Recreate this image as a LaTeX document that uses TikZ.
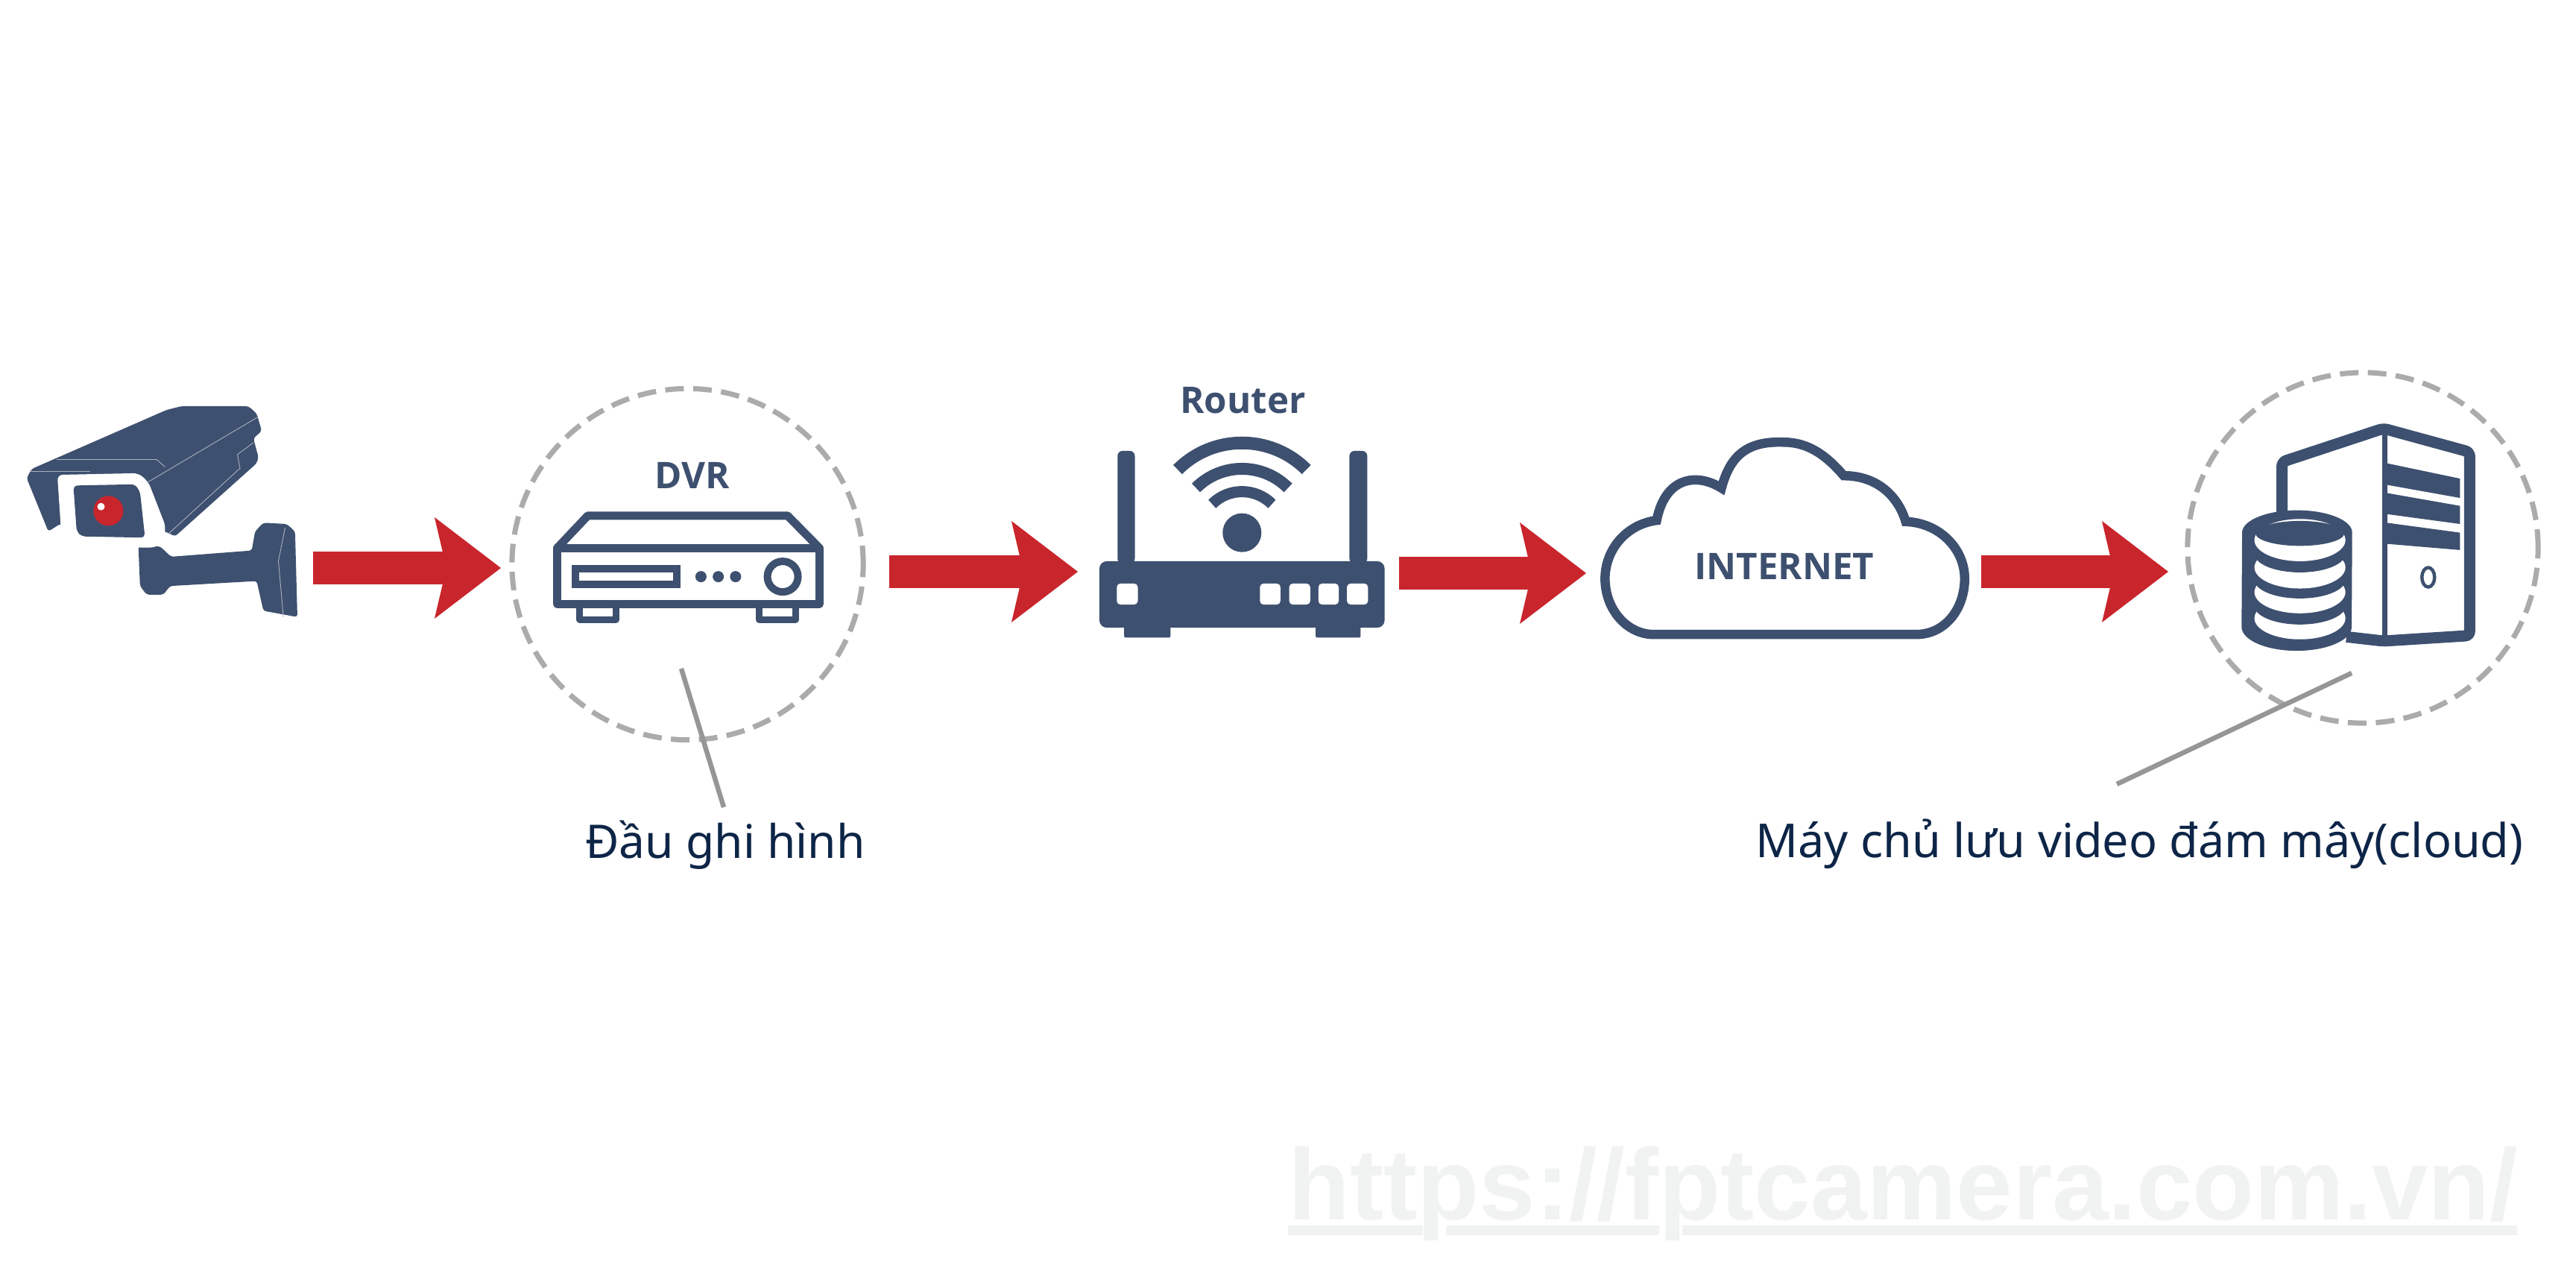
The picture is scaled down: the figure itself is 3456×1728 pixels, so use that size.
\documentclass[tikz,border=0pt]{standalone}
\usepackage{fontspec}
\usetikzlibrary{arrows.meta}
\newfontfamily\capfont{Noto Sans}
\newfontfamily\lblfont{Open Sans}
\newfontfamily\wmfont{Liberation Sans}
\definecolor{navy}{HTML}{3E506F}
\definecolor{redarrow}{HTML}{C9252C}
\definecolor{dashgray}{HTML}{ABABAB}
\definecolor{leadgray}{HTML}{969696}
\definecolor{captext}{HTML}{0D2547}
\definecolor{wmgray}{HTML}{F1F2F2}
\tikzset{
  flow/.style={draw=redarrow,line width=0.43cm,-{Stealth[length=0.89cm,width=1.36cm,inset=0.16cm,line width=0pt,round=false]}},
  halo/.style={draw=dashgray,line width=0.07cm,dash pattern=on 0.25cm off 0.125cm},
  leader/.style={draw=leadgray,line width=0.065cm},
  iconlabel/.style={font=\lblfont\bfseries\fontsize{14}{17}\selectfont,text=navy,inner sep=0pt,anchor=base},
  caption/.style={font=\capfont\fontsize{17.7}{21}\selectfont,text=captext,inner sep=0pt,anchor=base},
  thinline/.style={draw=navy!45!white,line width=0.009cm},
  zcam/.style={shift={(0,500)},x=0.004464cm,y=-0.003333cm},
  zdvr/.style={shift={(660,500)},x=0.003571cm,y=-0.003954cm},
  zrou/.style={shift={(1440,500)},x=0.003333cm,y=-0.003333cm},
  zclo/.style={shift={(2100,560)},x=0.003954cm,y=-0.003333cm},
  zsrv/.style={shift={(2900,480)},x=0.003546cm,y=-0.003333cm},
}
\begin{document}
\begin{tikzpicture}[x=0.01cm,y=-0.01cm]
\useasboundingbox (0,0) rectangle (3456,1728);
\fill[white] (0,0) rectangle (3456,1728);

% watermark
\node[font=\wmfont\bfseries\fontsize{38.55}{46}\selectfont,text=wmgray,inner sep=0pt,anchor=base west] (wm) at (1728,1636) {https://fptcamera.com.vn/};
\fill[wmgray] (1728,1644) rectangle (1909,1657) (1940,1644) rectangle (2226,1657) (2257,1644) rectangle (3377,1657);

% named connector ends
\coordinate (a1s) at (420,762); \coordinate (a1e) at (672,762);
\coordinate (a2s) at (1193,767); \coordinate (a2e) at (1446,767);
\coordinate (a3s) at (1877,769); \coordinate (a3e) at (2128,769);
\coordinate (a4s) at (2658,767); \coordinate (a4e) at (2909,767);
\coordinate (l1s) at (914,897); \coordinate (l1e) at (971,1083);
\coordinate (l2s) at (3155,903); \coordinate (l2e) at (2840,1052);
\coordinate (h1) at (922.5,757); \coordinate (h2) at (3170,735);

% halos
\draw[halo] (h1) circle[radius=2.355cm];
\draw[halo] (h2) circle[radius=2.35cm];
\draw[leader] (l1s) -- (l1e);
\draw[leader] (l2s) -- (l2e);

% flow arrows
\draw[flow] (a1s) -- (a1e);
\draw[flow] (a2s) -- (a2e);
\draw[flow] (a3s) -- (a3e);
\draw[flow] (a4s) -- (a4e);

% camera
\begin{scope}[zcam]
  \fill[navy,rounded corners=1pt] (415,700) -- (480,700) -- (513,742) -- (755,717) -- (765,640) -- (790,605) -- (860,610) -- (885,640) -- (892,985) -- (790,960) -- (770,840) -- (510,860) -- (490,895) -- (440,895) -- (420,860) -- cycle;
  \fill[navy,rounded corners=1pt] (80,425) -- (95,388) -- (500,150) -- (545,135) -- (745,135) -- (770,165) -- (785,235) -- (760,265) -- (775,340) -- (770,365) -- (525,660) -- (495,640) -- (180,610) -- (145,640) -- cycle;
  \fill[white,rounded corners=2pt] (172,412) -- (415,405) -- (445,440) -- (497,620) -- (490,685) -- (465,705) -- (210,703) -- (185,675) -- cycle;
  \fill[navy,rounded corners=1.5pt] (220,455) -- (405,450) -- (420,480) -- (435,665) -- (245,660) -- (230,640) -- cycle;
  \draw[thinline] (445,440) -- (772,180);
  \draw[thinline] (505,650) -- (720,385) -- (712,330) -- (760,282);
  \draw[thinline] (170,350) -- (470,350) -- (495,380);
  \draw[thinline] (92,397) -- (270,397);
  \draw[thinline] (855,625) -- (835,760) -- (850,985);
  \fill[redarrow] (325,557) ellipse[x radius=0.2cm,y radius=0.2cm];
  \fill[white] (303,540) circle[radius=0.05cm];
\end{scope}

% DVR
\begin{scope}[zdvr]
  \draw[navy,line width=0.11cm,line join=round] (245,595) -- (360,485) -- (1110,485) -- (1230,595);
  \draw[navy,line width=0.11cm,line join=round] (245,595) -- (1230,595) -- (1230,785) -- (245,785) -- cycle;
  \draw[navy,line width=0.1cm] (313,664) rectangle (695,719);
  \fill[navy] (785,692) circle[radius=0.075cm] (850,692) circle[radius=0.075cm] (915,692) circle[radius=0.075cm];
  \draw[navy,line width=0.1cm] (1092,692) circle[radius=0.205cm];
  \draw[navy,line width=0.09cm,line join=round] (330,790) -- (330,838) -- (465,838) -- (465,790);
  \draw[navy,line width=0.09cm,line join=round] (1003,790) -- (1003,838) -- (1140,838) -- (1140,790);
\end{scope}
\node[iconlabel] (dvr) at (929,656) {DVR};

% router
\begin{scope}[zrou]
  \fill[navy,rounded corners=0.1cm] (105,760) rectangle (1255,1028);
  \fill[navy,rounded corners=0.07cm] (178,770) -- (178,315) -- (248,315) -- (248,770) -- cycle;
  \fill[navy,rounded corners=0.07cm] (1113,770) -- (1113,315) -- (1185,315) -- (1185,770) -- cycle;
  \fill[navy,rounded corners=0.02cm] (205,1020) rectangle (392,1068);
  \fill[navy,rounded corners=0.02cm] (977,1020) rectangle (1158,1068);
  \foreach \a/\b in {175/260,752/835,870/955,988/1070,1103/1188}
    \fill[white,rounded corners=0.05cm] (\a,850) rectangle (\b,935);
  \coordinate (wifi) at (680,650);
  \fill[navy] (680,645) circle[radius=0.26cm];
  \draw[navy,line width=0.17cm] (wifi) ++(135:1.22cm) arc[start angle=135,end angle=45,radius=1.22cm];
  \draw[navy,line width=0.16cm] (wifi) ++(135:0.873cm) arc[start angle=135,end angle=45,radius=0.873cm];
  \draw[navy,line width=0.15cm] (wifi) ++(135:0.567cm) arc[start angle=135,end angle=45,radius=0.567cm];
\end{scope}
\node[iconlabel] (router) at (1667.5,555) {Router};

% cloud
\begin{scope}[zclo]
  \draw[navy,line width=0.125cm,line join=miter]
    (300,875) -- (1190,875)
    .. controls (1290,875) and (1355,770) .. (1355,650)
    .. controls (1355,530) and (1270,425) .. (1155,420)
    .. controls (1130,320) and (1060,235) .. (945,235)
    .. controls (890,160) and (830,100) .. (740,100)
    .. controls (620,95) and (560,150) .. (530,285)
    .. controls (450,225) and (340,235) .. (310,415)
    .. controls (210,430) and (135,530) .. (135,650)
    .. controls (135,775) and (210,875) .. (300,875) -- cycle;
\end{scope}
\node[iconlabel] (inet) at (2394,778) {INTERNET};

% server tower
\begin{scope}[zsrv]
  \draw[navy,line width=0.15cm,rounded corners=0.06cm] (456,640) -- (456,420) -- (840,285) -- (1167,380) -- (1167,1120) -- (840,1142) -- (700,1125);
  \draw[navy,line width=0.07cm] (845,295) -- (845,1135);
  \fill[navy] (852,425) -- (1130,487) -- (1130,565) -- (852,512) -- cycle;
  \fill[navy] (852,545) -- (1130,597) -- (1130,670) -- (852,630) -- cycle;
  \fill[navy] (852,665) -- (1130,705) -- (1130,775) -- (852,750) -- cycle;
  \draw[navy,line width=0.045cm] (1010,885) ellipse[x radius=0.085cm,y radius=0.13cm];
  % database stack
  \fill[navy] (305,705) arc[start angle=180,end angle=0,x radius=0.738cm,y radius=0.30cm] -- (720,1085) arc[start angle=360,end angle=180,x radius=0.738cm,y radius=0.32cm] -- cycle;
  \fill[white] (524,1050) ellipse[x radius=0.61cm,y radius=0.283cm];
  \fill[navy] (524,1000) ellipse[x radius=0.61cm,y radius=0.25cm];
  \fill[white] (524,945) ellipse[x radius=0.61cm,y radius=0.283cm];
  \fill[navy] (524,895) ellipse[x radius=0.61cm,y radius=0.25cm];
  \fill[white] (524,845) ellipse[x radius=0.61cm,y radius=0.283cm];
  \fill[navy] (524,790) ellipse[x radius=0.61cm,y radius=0.25cm];
  \fill[white] (524,735) ellipse[x radius=0.61cm,y radius=0.283cm];
  \fill[navy] (524,708) ellipse[x radius=0.595cm,y radius=0.167cm];
\end{scope}

% captions
\node[caption] (cap1) at (973,1152) {Đầu ghi hình};
\node[caption,font=\capfont\fontsize{17.87}{21}\selectfont] (cap2) at (2870.5,1150) {Máy chủ lưu video đám mây(cloud)};
\end{tikzpicture}
\end{document}
